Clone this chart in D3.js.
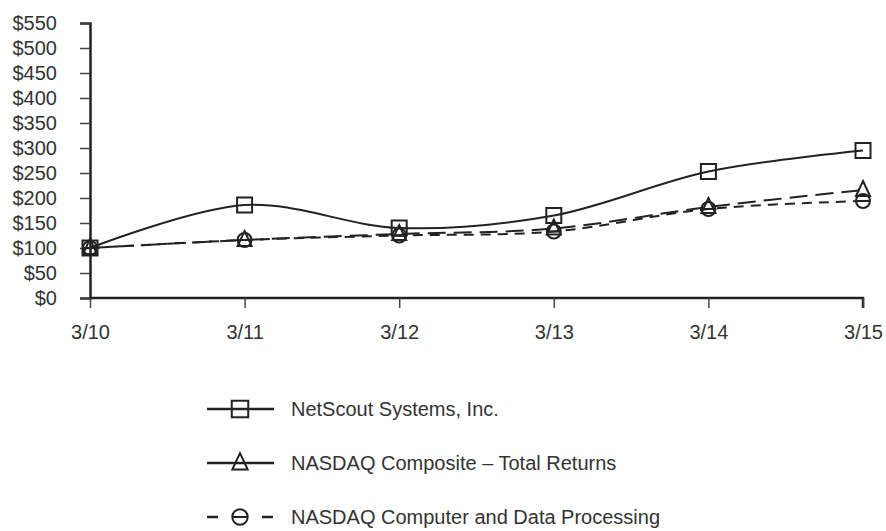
<!DOCTYPE html>
<html><head><meta charset="utf-8">
<script src="https://cdn.jsdelivr.net/npm/d3@7"></script>
<style>body{margin:0;background:#fff}svg{display:block}text{font-family:"Liberation Sans",Arial,sans-serif;fill:#333}</style>
</head><body><svg id="c" width="886" height="531"></svg>
<script>
const categories = ["3/10","3/11","3/12","3/13","3/14","3/15"];
const netscout = [100,186,140,165,253,295];
const composite = [100,116,128,139,182,216];
const computer = [100,116,125,133,178,194];
const yTicks = [0,50,100,150,200,250,300,350,400,450,500,550];
const seriesNames = ["NetScout Systems, Inc.","NASDAQ Composite \u2013 Total Returns","NASDAQ Computer and Data Processing"];

const svg = d3.select("#c");
const x = d3.scalePoint().domain(categories).range([90,863]);
const y = d3.scaleLinear().domain([0,550]).range([298,23]);

const yAxis = d3.axisLeft(y).tickValues(yTicks).tickFormat(d=>"$"+d).tickSize(10).tickPadding(23);
const gy = svg.append("g").attr("transform","translate(90,0)").call(yAxis);
const xAxis = d3.axisBottom(x).tickSize(10).tickPadding(17);
const gx = svg.append("g").attr("transform","translate(0,298)").call(xAxis);
[gx,gy].forEach(g=>{
  g.select(".domain").attr("stroke","#222").attr("stroke-width",2.5);
  g.selectAll(".tick line").attr("stroke","#444").attr("stroke-width",1.5);
  g.selectAll("text").attr("font-size",20).attr("fill","#333").style("font-family","Liberation Sans, Arial, sans-serif");
});
gx.select(".domain").attr("d","M90,0H863V10");

const line = d3.line().x((d,i)=>x(categories[i])).y(d=>y(d)).curve(d3.curveCardinal.tension(0));
const series = [
  {vals:computer, dash:"10,7", width:2, marker:"circle"},
  {vals:composite, dash:"18,8", width:2, marker:"triangle"},
  {vals:netscout, dash:null, width:2, marker:"square"}
];
function drawMarker(g, type, cx, cy, s){
  s = s || 1;
  if(type==="square") g.append("rect").attr("x",cx-7.5*s).attr("y",cy-7.5*s).attr("width",15*s).attr("height",15*s).attr("fill","none").attr("stroke","#222").attr("stroke-width",2);
  else if(type==="triangle") g.append("path").attr("d",`M${cx},${cy-9*s}L${cx+7*s},${cy+6*s}L${cx-7*s},${cy+6*s}Z`).attr("fill","none").attr("stroke","#222").attr("stroke-width",2);
  else { g.append("circle").attr("cx",cx).attr("cy",cy).attr("r",7*s).attr("fill","none").attr("stroke","#222").attr("stroke-width",2);
         g.append("line").attr("x1",cx-7*s).attr("x2",cx+7*s).attr("y1",cy).attr("y2",cy).attr("stroke","#222").attr("stroke-width",2); }
}
series.forEach(s=>{
  svg.append("path").attr("d",line(s.vals)).attr("fill","none").attr("stroke","#222").attr("stroke-width",s.width).attr("stroke-dasharray",s.dash);
});
series.forEach(s=>{
  const g = svg.append("g");
  s.vals.forEach((v,i)=>drawMarker(g,s.marker,x(categories[i]),y(v)));
});

// legend
const legendRows = [
  {name:seriesNames[0], marker:"square", dash:null},
  {name:seriesNames[1], marker:"triangle", dash:null},
  {name:seriesNames[2], marker:"circle", dash:"10,14"}
];
const ly = d3.scalePoint().domain([0,1,2]).range([409,517]);
legendRows.forEach((r,i)=>{
  const g = svg.append("g");
  const yy = ly(i);
  if(r.dash){
    g.append("line").attr("x1",207).attr("x2",218).attr("y1",yy).attr("y2",yy).attr("stroke","#222").attr("stroke-width",2.5);
    g.append("line").attr("x1",262).attr("x2",273).attr("y1",yy).attr("y2",yy).attr("stroke","#222").attr("stroke-width",2.5);
  } else {
    g.append("line").attr("x1",207).attr("x2",274).attr("y1",yy).attr("y2",yy).attr("stroke","#222").attr("stroke-width",2.5);
  }
  drawMarker(g,r.marker,240,yy,1.1);
  g.append("text").attr("x",291).attr("y",yy).attr("dy","0.35em").attr("font-size",20).text(r.name);
});
</script></body></html>
